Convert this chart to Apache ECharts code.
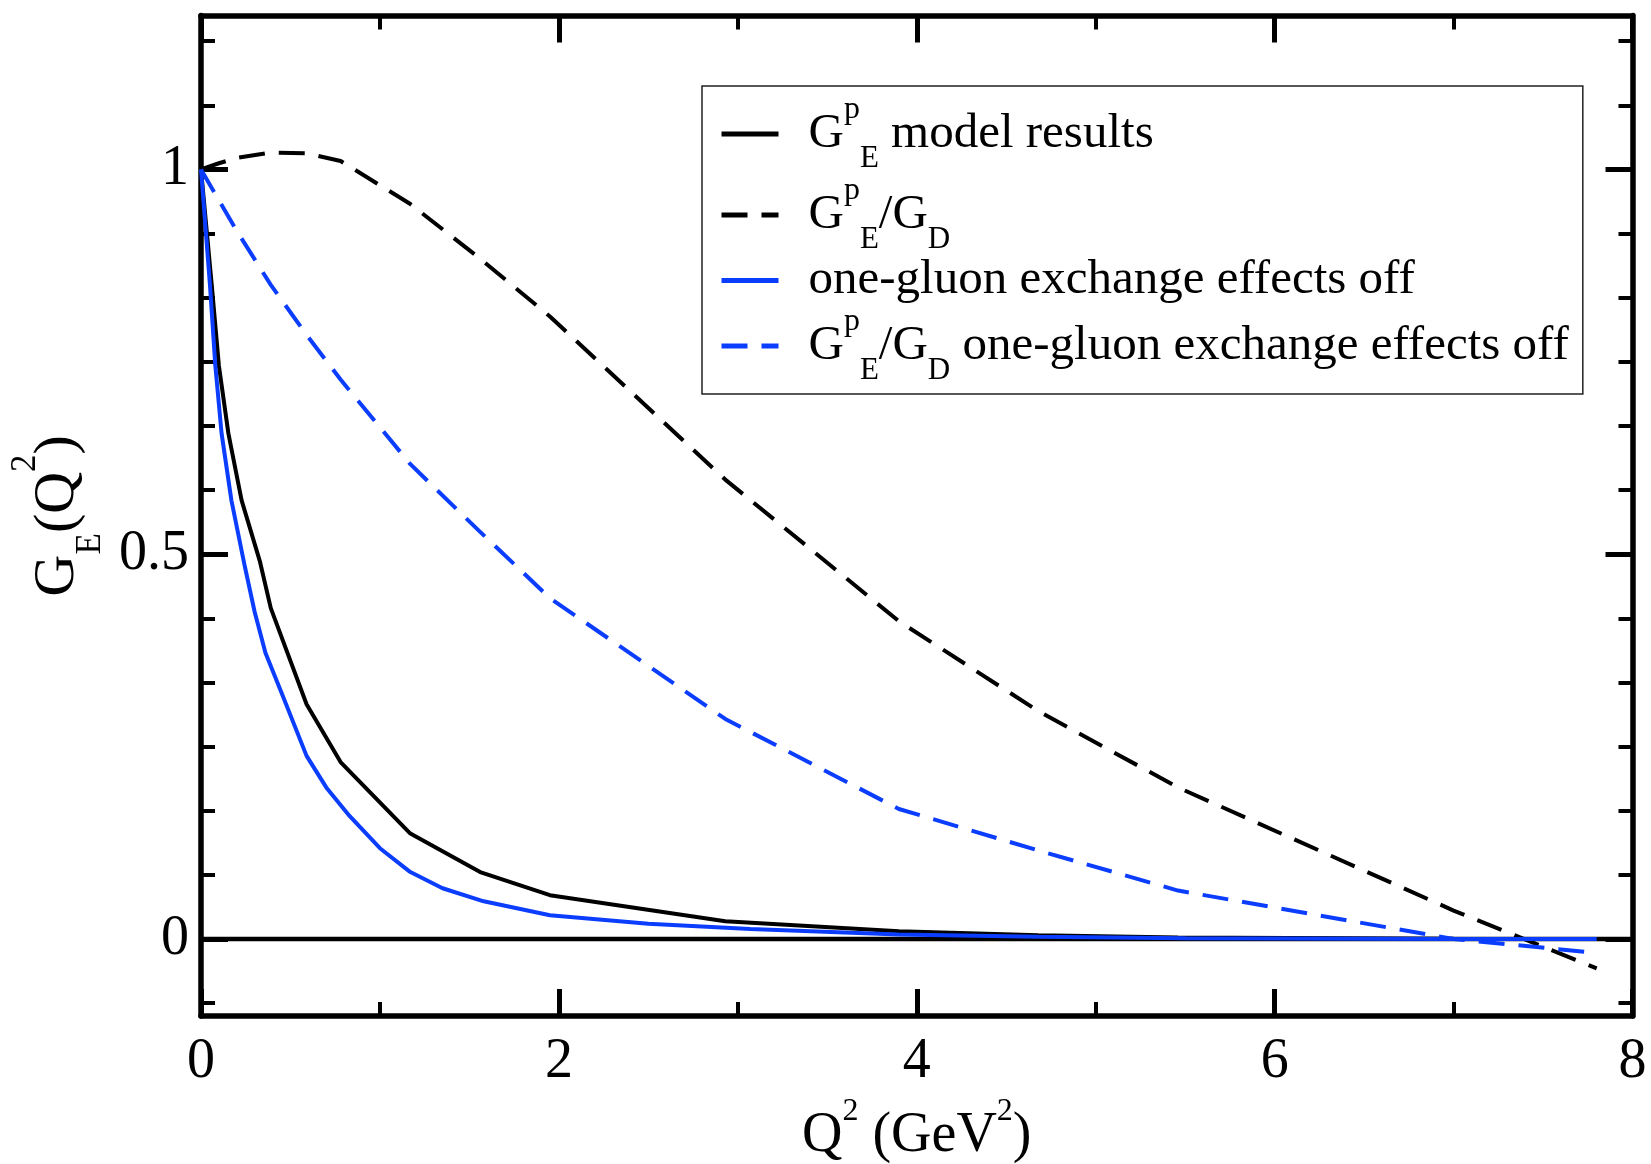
<!DOCTYPE html>
<html>
<head>
<meta charset="utf-8">
<script src="https://cdn.jsdelivr.net/npm/echarts@6/dist/echarts.min.js"></script>
<style>
html,body{margin:0;padding:0;background:#fff;}
#chart{width:1651px;height:1164px;}
</style>
</head>
<body>
<div id="chart"></div>
<script>
// ---- data ----
const xModel = [0, 0.06, 0.1, 0.153, 0.227, 0.33, 0.39, 0.59, 0.78, 1.17, 1.56, 1.95, 2.93, 3.9, 4.68, 5.46, 7.0, 7.8];
const yModel = [1, 0.85, 0.745, 0.657, 0.57, 0.49, 0.43, 0.305, 0.23, 0.137, 0.087, 0.057, 0.023, 0.010, 0.005, 0.002, 0.0005, 0.0];

const xRatio = [0, 0.1, 0.2, 0.39, 0.59, 0.78, 1.17, 1.56, 1.95, 2.93, 3.9, 4.68, 5.46, 7.0, 7.8];
const yRatio = [1, 1.008, 1.015, 1.022, 1.021, 1.011, 0.955, 0.884, 0.809, 0.597, 0.413, 0.296, 0.197, 0.037, -0.038];

const xOff = [0, 0.05, 0.08, 0.115, 0.17, 0.245, 0.3, 0.36, 0.45, 0.59, 0.7, 0.83, 1.0, 1.17, 1.35, 1.58, 1.95, 2.5, 3.07, 3.9, 4.68, 5.5, 7.0, 7.8];
const yOff = [1, 0.85, 0.745, 0.657, 0.57, 0.484, 0.425, 0.372, 0.32, 0.238, 0.197, 0.160, 0.118, 0.087, 0.066, 0.049, 0.031, 0.02, 0.013, 0.006, 0.003, 0.001, 0, 0];

const xRatioOff = [0, 0.2, 0.39, 0.59, 0.78, 1.17, 1.56, 1.95, 2.93, 3.9, 4.68, 5.46, 7.0, 7.8];
const yRatioOff = [1, 0.92, 0.85, 0.785, 0.727, 0.617, 0.529, 0.443, 0.286, 0.169, 0.115, 0.063, 0.0, -0.018];

const xZero = [0, 8];
const yZero = [0, 0];

// tick values
const yMajorTicks = [0, 0.5, 1];
const yMinorTicks = [-1/12, 1/12, 2/12, 3/12, 4/12, 5/12, 7/12, 8/12, 9/12, 10/12, 11/12, 13/12, 14/12];

const seriesNames = ['model', 'ratio', 'off', 'ratioOff'];
const legendLabels = {
  model: '{n|G}{sup|p}{sub|E}{n| model results}',
  ratio: '{n|G}{sup|p}{sub|E}{n|/G}{sub|D}',
  off: '{m|one-gluon exchange effects off}',
  ratioOff: '{n|G}{sup|p}{sub|E}{n|/G}{sub|D}{n| one-gluon exchange effects off}'
};

function pairs(xs, ys) { return xs.map((x, i) => [x, ys[i]]); }

const FONT = 'Liberation Serif';
const BLUE = '#0b3dff';
const DASH = [26, 14];

const chart = echarts.init(document.getElementById('chart'), null, {renderer: 'canvas'});

const yCommon = { type: 'value', min: -0.1, max: 1.2, splitLine: {show: false}, gridIndex: 0 };
const FRAME = {color: '#000', width: 5.5};
const MAJOR = {color: '#000', width: 5};
const MINOR = {color: '#000', width: 4};

const option = {
  backgroundColor: '#fff',
  animation: false,
  grid: { left: 201, right: 18.5, top: 15.5, bottom: 148, containLabel: false, outerBoundsMode: 'none' },
  xAxis: [
    {
      type: 'value', position: 'bottom', min: 0, max: 8, interval: 2,
      axisLine: {show: true, onZero: false, lineStyle: FRAME},
      axisTick: {show: true, inside: true, length: 27, lineStyle: MAJOR},
      minorTick: {show: true, splitNumber: 2, length: 14, lineStyle: MINOR},
      splitLine: {show: false},
      axisLabel: {show: true, margin: 18, fontFamily: FONT, fontSize: 56, color: '#000'},
      name: 'Q{sup|2} (GeV{sup|2})',
      nameLocation: 'middle', nameGap: 80,
      nameTextStyle: {
        fontFamily: FONT, fontSize: 56, color: '#000', lineHeight: 80,
        rich: {
          sup: {fontFamily: FONT, fontSize: 32, lineHeight: 14, verticalAlign: 'top', color: '#000'}
        }
      }
    },
    {
      type: 'value', position: 'top', min: 0, max: 8, interval: 2,
      axisLine: {show: true, onZero: false, lineStyle: FRAME},
      axisTick: {show: true, inside: true, length: 27, lineStyle: MAJOR},
      minorTick: {show: true, splitNumber: 2, length: 14, lineStyle: MINOR},
      splitLine: {show: false},
      axisLabel: {show: false}
    }
  ],
  yAxis: [
    Object.assign({}, yCommon, {
      position: 'left',
      axisLine: {show: true, onZero: false, lineStyle: FRAME},
      axisTick: {show: true, inside: true, length: 27, customValues: yMajorTicks, lineStyle: MAJOR},
      axisLabel: {show: true, margin: 12, customValues: yMajorTicks, fontFamily: FONT, fontSize: 56, color: '#000'},
      name: '{n|G}{sub|E}{n|(Q}{sup|2}{n|)}',
      nameLocation: 'middle', nameGap: 86, nameRotate: 90,
      nameTextStyle: {
        fontFamily: FONT, fontSize: 58, color: '#000',
        rich: {
          n: {fontFamily: FONT, fontSize: 58, lineHeight: 100, color: '#000'},
          sub: {fontFamily: FONT, fontSize: 35, lineHeight: 20, verticalAlign: 'bottom', color: '#000'},
          sup: {fontFamily: FONT, fontSize: 35, lineHeight: 28, verticalAlign: 'top', color: '#000'}
        }
      }
    }),
    Object.assign({}, yCommon, {
      position: 'left',
      axisLine: {show: false, onZero: false},
      axisTick: {show: true, inside: true, length: 14, customValues: yMinorTicks, lineStyle: MINOR},
      axisLabel: {show: false}
    }),
    Object.assign({}, yCommon, {
      position: 'right',
      axisLine: {show: true, onZero: false, lineStyle: FRAME},
      axisTick: {show: true, inside: true, length: 27, customValues: yMajorTicks, lineStyle: MAJOR},
      axisLabel: {show: false}
    }),
    Object.assign({}, yCommon, {
      position: 'right',
      axisLine: {show: false, onZero: false},
      axisTick: {show: true, inside: true, length: 14, customValues: yMinorTicks, lineStyle: MINOR},
      axisLabel: {show: false}
    })
  ],
  legend: {
    data: seriesNames,
    orient: 'vertical',
    left: 702, top: 86,
    padding: [8, 14, 8, 17],
    itemGap: 1,
    itemWidth: 57, itemHeight: 20,
    borderColor: '#222', borderWidth: 1.5, borderRadius: 0,
    backgroundColor: '#fff',
    lineStyle: {width: 5},
    itemStyle: {color: 'rgba(0,0,0,0)', borderColor: 'rgba(0,0,0,0)', borderWidth: 0, opacity: 0},
    selectedMode: false,
    formatter: function (name) { return legendLabels[name]; },
    textStyle: {
      fontFamily: FONT, fontSize: 49, color: '#000',
      padding: [0, 0, 0, 25],
      rich: {
        n: {fontFamily: FONT, fontSize: 49, lineHeight: 80, color: '#000'},
        m: {fontFamily: FONT, fontSize: 49, lineHeight: 70, color: '#000'},
        sup: {fontFamily: FONT, fontSize: 32, lineHeight: 44, verticalAlign: 'top', color: '#000'},
        sub: {fontFamily: FONT, fontSize: 31, lineHeight: 30, verticalAlign: 'bottom', color: '#000'}
      }
    }
  },
  series: [
    {
      name: 'zero', type: 'line', data: pairs(xZero, yZero), symbol: 'none', z: 1,
      lineStyle: {color: '#000', width: 4.5}, silent: true
    },
    {
      name: 'model', type: 'line', data: pairs(xModel, yModel), symbol: 'none', z: 3,
      color: '#000', lineStyle: {color: '#000', width: 4}
    },
    {
      name: 'ratio', type: 'line', data: pairs(xRatio, yRatio), symbol: 'none', z: 3,
      color: '#000', lineStyle: {color: '#000', width: 4, type: DASH}
    },
    {
      name: 'off', type: 'line', data: pairs(xOff, yOff), symbol: 'none', z: 4,
      color: BLUE, lineStyle: {color: BLUE, width: 4}
    },
    {
      name: 'ratioOff', type: 'line', data: pairs(xRatioOff, yRatioOff), symbol: 'none', z: 3,
      color: BLUE, lineStyle: {color: BLUE, width: 4, type: DASH}
    }
  ]
};
chart.setOption(option);
</script>
</body>
</html>
